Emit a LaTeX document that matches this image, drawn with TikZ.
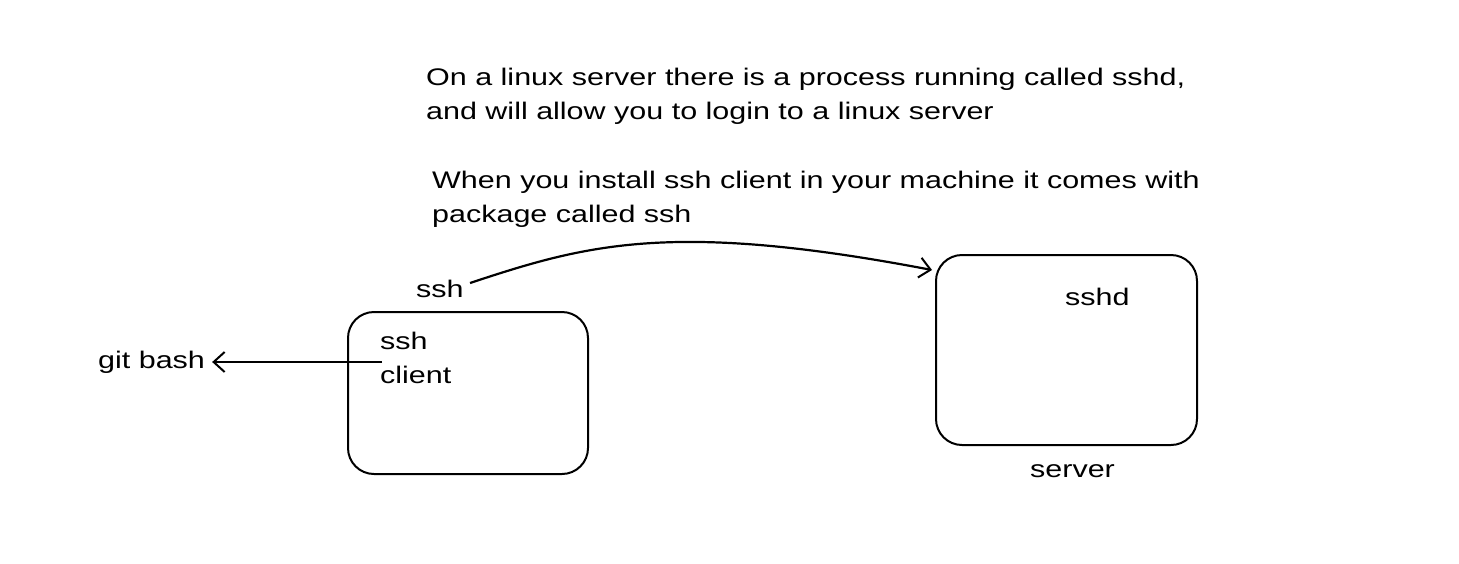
\documentclass[tikz,border=0pt]{standalone}
\usepackage{fontspec}
\setmainfont[FakeStretch=1.27]{Liberation Sans}
\usetikzlibrary{arrows.meta}
\begin{document}
\begin{tikzpicture}[x=1pt,y=-1pt,
  lbl/.style={inner sep=0pt,anchor=west,font=\fontsize{24}{34}\selectfont,align=left},
  boxshape/.style={draw,line width=2pt,rounded corners=26pt},
  conn/.style={line width=2.2pt,-{Straight Barb[length=11pt,width=20pt,line width=2pt]}}]
\useasboundingbox (0,0) rectangle (1459,563);
\node[lbl] (t1) at (426,96) {On a linux server there is a process running called sshd,\\and will allow you to login to a linux server};
\node[lbl] (t2) at (432,199) {When you install ssh client in your machine it comes with\\package called ssh};
\draw[boxshape] (348,312) rectangle (588,474);
\draw[boxshape] (936,255) rectangle (1197,445);
\node[lbl] (sshlbl) at (416,289) {ssh};
\node[lbl] (client) at (380,358) {ssh\\client};
\node[lbl] (git) at (98,362) {git bash};
\node[lbl] (sshd) at (1065,297) {sshd};
\node[lbl] (server) at (1030,471) {server};
\coordinate (cs) at (470,283);
\coordinate (ce) at (932,270);
\draw[conn] (cs) .. controls (585,245) and (670,220) .. (ce);
\draw[conn] (client.west) ++(2,4) -- ([xshift=7pt]git.east);
\end{tikzpicture}
\end{document}
